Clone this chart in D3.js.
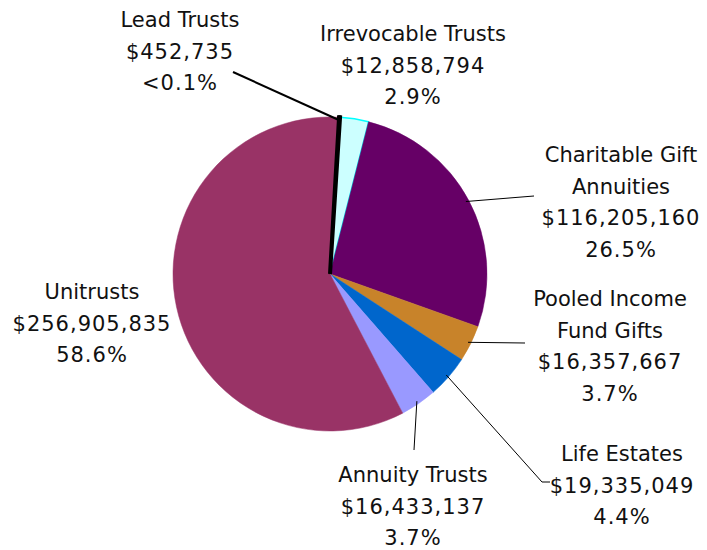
<!DOCTYPE html>
<html>
<head>
<meta charset="utf-8">
<script src="https://cdn.jsdelivr.net/npm/d3@7"></script>
<style>
  body { margin: 0; background: #fff; }
  svg text { font-family: "DejaVu Sans", sans-serif; font-size: 21px; fill: #111; }
  svg tspan.num { letter-spacing: 1px; }
</style>
</head>
<body>
<div id="chart"></div>
<script>
// data, clockwise from the top
const categories = ["Lead Trusts", "Irrevocable Trusts", "Charitable Gift Annuities", "Pooled Income Fund Gifts", "Life Estates", "Annuity Trusts", "Unitrusts"];
const amounts = [452735, 12858794, 116205160, 16357667, 19335049, 16433137, 256905835];
const pctLabels = ["<0.1%", "2.9%", "26.5%", "3.7%", "4.4%", "3.7%", "58.6%"];
const nameLines = [["Lead Trusts"], ["Irrevocable Trusts"], ["Charitable Gift", "Annuities"], ["Pooled Income", "Fund Gifts"], ["Life Estates"], ["Annuity Trusts"], ["Unitrusts"]];
const colors = ["#000000", "#CCFFFF", "#660066", "#C8832A", "#0066CC", "#9999FF", "#993366"];

const width = 707, height = 550;
const cx = 330, cy = 274, radius = 157;

// label placement (center x, first baseline y) and leader end point
const labelPos = [
  { x: 180, y: 27, lx: 233, ly: 72 },
  { x: 413, y: 41, lx: null },
  { x: 621, y: 162, lx: 534, ly: 196 },
  { x: 610, y: 306, lx: 525, ly: 343 },
  { x: 622, y: 461, lx: 542, ly: 482, elbow: 550 },
  { x: 413, y: 482, lx: 414, ly: 450 },
  { x: 92, y: 299, lx: null }
];

const svg = d3.select("#chart").append("svg")
  .attr("width", width)
  .attr("height", height);

const pie = d3.pie()
  .sort(null)
  .value(d => d)
  .startAngle(3.3 * Math.PI / 180)
  .endAngle(3.3 * Math.PI / 180 + 2 * Math.PI);

const arcs = pie(amounts);
const arc = d3.arc().innerRadius(0).outerRadius(radius);

const g = svg.append("g").attr("transform", `translate(${cx},${cy})`);

// slices
g.selectAll("path.slice")
  .data(arcs)
  .enter().append("path")
  .attr("class", "slice")
  .attr("d", arc)
  .attr("fill", (d, i) => colors[i])
  .attr("stroke", (d, i) => i === 0 ? "#000" : (i === 1 ? "#00FFFF" : colors[i]))
  .attr("stroke-width", (d, i) => i === 0 ? 4 : (i === 1 ? 1.5 : 0.5))
  .attr("stroke-linejoin", "round");

// redraw the tiny lead trusts slice on top so it stays visible
g.append("path")
  .datum(arcs[0])
  .attr("d", arc)
  .attr("fill", "#000")
  .attr("stroke", "#000")
  .attr("stroke-width", 4);

// leader lines
arcs.forEach((d, i) => {
  const p = labelPos[i];
  if (p.lx == null) return;
  const mid = (d.startAngle + d.endAngle) / 2;
  const sx = cx + Math.sin(mid) * (radius - 3);
  const sy = cy - Math.cos(mid) * (radius - 3);
  const pts = [[sx, sy], [p.lx, p.ly]];
  if (p.elbow) pts.push([p.elbow, p.ly]);
  svg.append("path")
    .attr("d", d3.line()(pts))
    .attr("fill", "none")
    .attr("stroke", "#000")
    .attr("stroke-width", i === 0 ? 2 : 1);
});

// labels
const fmt = d3.format("$,");
arcs.forEach((d, i) => {
  const p = labelPos[i];
  const names = nameLines[i];
  const lines = names.concat([fmt(amounts[i]), pctLabels[i]]);
  const t = svg.append("text")
    .attr("text-anchor", "middle")
    .attr("x", p.x)
    .attr("y", p.y);
  lines.forEach((s, k) => {
    t.append("tspan")
      .attr("class", k >= names.length ? "num" : null)
      .attr("x", p.x)
      .attr("dy", k === 0 ? 0 : 31.5)
      .text(s);
  });
});
</script>
</body>
</html>
